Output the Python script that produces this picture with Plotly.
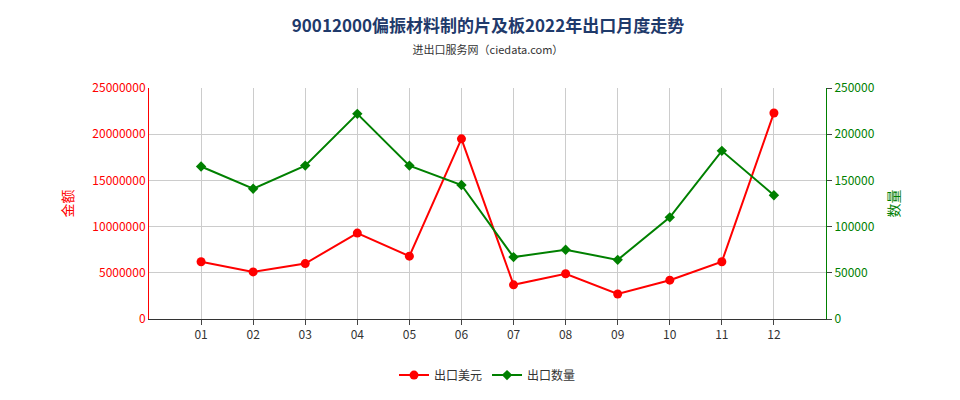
import plotly.graph_objects as go

months = ['01','02','03','04','05','06','07','08','09','10','11','12']
usd = [6200000,5100000,6000000,9300000,6800000,19500000,3700000,4900000,2700000,4200000,6200000,22300000]
qty = [165000,141000,166000,222000,166000,145000,67000,75000,64000,110000,182000,134000]
xs = list(range(len(months)))

fig = go.Figure()
fig.add_trace(go.Scatter(x=xs, y=usd, name='出口美元', mode='lines+markers',
                         line=dict(color='#ff0000', width=2), marker=dict(size=9, color='#ff0000')))
fig.add_trace(go.Scatter(x=xs, y=qty, name='出口数量', mode='lines+markers', yaxis='y2',
                         line=dict(color='#008000', width=2), marker=dict(size=8, symbol='diamond', color='#008000')))

fig.update_layout(
    width=960, height=400, plot_bgcolor='white', paper_bgcolor='white',
    font=dict(family='Noto Sans CJK SC', size=12, color='#333'),
    title=dict(text='<b>90012000偏振材料制的片及板2022年出口月度走势</b><br><span style="font-size:11px;color:#333">进出口服务网（ciedata.com）</span>',
               x=0.5, y=0.94, xanchor='center', font=dict(size=17, color='#1f3a6b')),
    margin=dict(l=141, r=142, t=80, b=89),
    xaxis=dict(range=[-1, 12], tickvals=xs, ticktext=months, showgrid=True, gridcolor='#cccccc',
               showline=True, linecolor='#333', ticks='outside', zeroline=False),
    yaxis=dict(range=[0, 25000000], dtick=5000000, tickformat='d', showgrid=True, gridcolor='#cccccc',
               title=dict(text='金额', font=dict(color='#ff0000')), tickfont=dict(color='#ff0000'),
               showline=True, linecolor='#ff0000', zeroline=False),
    yaxis2=dict(range=[0, 250000], dtick=50000, tickformat='d', overlaying='y', side='right',
                title=dict(text='数量', font=dict(color='#008000')), tickfont=dict(color='#008000'),
                showline=True, linecolor='#008000', ticks='outside', showgrid=False, zeroline=False),
    legend=dict(orientation='h', x=0.5, xanchor='center', y=-0.18, yanchor='top'),
)
fig.write_html("out.html")
